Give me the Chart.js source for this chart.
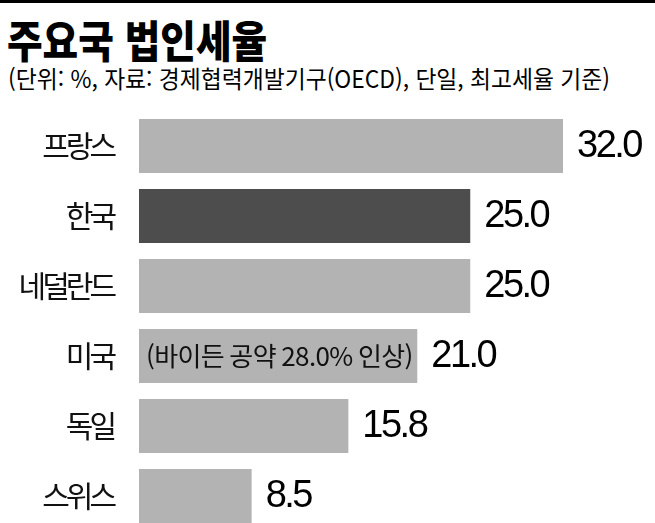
<!DOCTYPE html>
<html lang="ko">
<head>
<meta charset="utf-8">
<script src="https://cdn.jsdelivr.net/npm/chart.js@4.4.1/dist/chart.umd.min.js"></script>
<style>
  html,body{ margin:0; padding:0; background:#fff; overflow:hidden; width:655px; height:523px; }
  .topline{ position:absolute; left:0; top:0; width:655px; height:3px; background:#000; }
  .title{ position:absolute; left:7px; top:13px; margin:0; font:900 44px "Noto Sans CJK KR"; color:#000;
          white-space:nowrap; transform:scaleX(0.88); transform-origin:left top; line-height:1.2; }
  .sub{ position:absolute; left:8px; top:64px; margin:0; font:400 24px "Noto Sans CJK KR"; color:#000;
        white-space:nowrap; transform:scaleX(0.95); transform-origin:left top; line-height:1.2; }
  .wrap{ position:absolute; left:0; top:100px; width:655px; height:440px; }
</style>
</head>
<body>
<div class="topline"></div>
<h1 class="title">주요국 법인세율</h1>
<p class="sub">(단위: %, 자료: 경제협력개발기구(OECD), 단일, 최고세율 기준)</p>
<div class="wrap"><canvas id="c"></canvas></div>

<script>
// ── data ─────────────────────────────────────────────
const categories = ["프랑스","한국","네덜란드","미국","독일","스위스"];
const rates      = [32.0, 25.0, 25.0, 21.0, 15.8, 8.5];
const notes      = ["", "", "", "(바이든 공약 28.0% 인상)", "", ""];
const highlight  = "한국";

const C = { bar:"#b3b3b3", hi:"#4d4d4d", ink:"#111" };
const KR = '"Noto Sans CJK KR", "Noto Sans", sans-serif';
const NUM = '"Liberation Sans Narrow", "Liberation Sans", Arial, sans-serif';

// tighter spacing for the axis labels (the original uses a condensed face)
const tightText = {
  id:"tightText",
  beforeDraw(chart){ chart.ctx.letterSpacing = "-4px"; },
  afterDraw(chart){ chart.ctx.letterSpacing = "0px"; },
};

// value labels after each bar + note inside the US bar
const barLabels = {
  id:"barLabels",
  afterDatasetsDraw(chart){
    const ctx = chart.ctx;
    const meta = chart.getDatasetMeta(0);
    meta.data.forEach((bar, i)=>{
      ctx.save();
      ctx.textBaseline = "middle";
      ctx.textAlign = "left";
      ctx.fillStyle = "#000";
      ctx.letterSpacing = "-2.5px";
      ctx.font = `38px ${NUM}`;
      ctx.fillText(rates[i].toFixed(1), bar.x + 14, bar.y + 1);
      if(notes[i]){
        ctx.font = `26px ${KR}`;
        ctx.letterSpacing = "-0.6px";
        ctx.fillStyle = C.ink;
        ctx.fillText(notes[i], bar.base + 7, bar.y);
      }
      ctx.restore();
    });
  }
};

new Chart(document.getElementById("c"), {
  type:"bar",
  data:{
    labels:categories,
    datasets:[{
      data:rates,
      backgroundColor:categories.map(c=> c===highlight ? C.hi : C.bar),
      borderWidth:0,
      categoryPercentage:1,
      barPercentage:0.771,
    }]
  },
  options:{
    indexAxis:"y",
    responsive:true, maintainAspectRatio:false,
    animation:false,
    layout:{ padding:{ top:11, bottom:9, left:0, right:39 } },
    plugins:{ legend:{ display:false }, tooltip:{ enabled:false } },
    scales:{
      x:{ display:false, min:0, max:36 },
      y:{
        grid:{ display:false, drawTicks:false },
        border:{ display:false },
        ticks:{ color:C.ink, padding:26, font:{ family:KR, size:30 } },
        afterFit(scale){ scale.width = 139; scale.paddingTop = 0; scale.paddingBottom = 0; },
      }
    }
  },
  plugins:[tightText, barLabels],
});
</script>
</body>
</html>
